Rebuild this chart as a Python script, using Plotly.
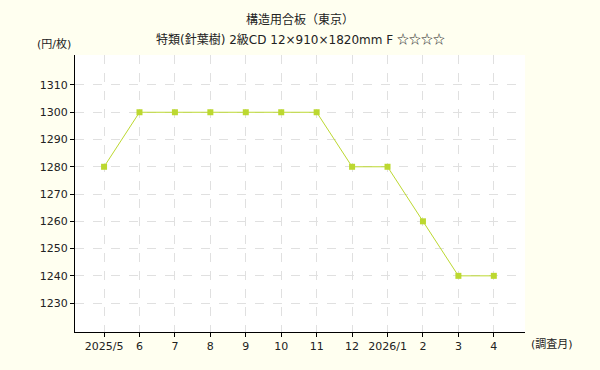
import plotly.graph_objects as go

months = ["2025/5", "6", "7", "8", "9", "10", "11", "12", "2026/1", "2", "3", "4"]
prices = [1280, 1300, 1300, 1300, 1300, 1300, 1300, 1280, 1280, 1260, 1240, 1240]
y_ticks = [1230, 1240, 1250, 1260, 1270, 1280, 1290, 1300, 1310]
title_main = "構造用合板（東京）"
title_sub = "特類(針葉樹) 2級CD 12×910×1820mm F "
title_stars = "☆☆☆☆"

font = "DejaVu Sans, Noto Sans CJK JP, sans-serif"
cjk = "Noto Sans CJK JP"
x_idx = list(range(len(months)))

fig = go.Figure()
fig.add_trace(go.Scatter(
    x=x_idx, y=prices, mode="lines+markers",
    line=dict(color="#bcd830", width=1),
    marker=dict(symbol="square", size=6, color="#bcd830"),
    hoverinfo="skip", showlegend=False,
))

annots = [
    dict(text=title_main, xref="paper", yref="paper", x=0.5, y=1.0, yshift=35,
         xanchor="center", yanchor="middle", showarrow=False,
         font=dict(family=font, size=12, color="#222222")),
    dict(text=title_sub + '<span style="font-family:' + cjk + '">' + title_stars + '</span>',
         xref="paper", yref="paper", x=0.5, y=1.0, yshift=17,
         xanchor="center", yanchor="middle", showarrow=False,
         font=dict(family=font, size=12, color="#222222")),
    dict(text="(円/枚)", xref="paper", yref="paper", x=-0.089, y=1.0, yshift=11,
         xanchor="left", yanchor="middle", showarrow=False,
         font=dict(family=font, size=11, color="#222222")),
    dict(text="(調査月)", xref="paper", yref="paper", x=1.0, xshift=4, y=0, yshift=-12,
         xanchor="left", yanchor="middle", showarrow=False,
         font=dict(family=font, size=11, color="#222222")),
]

fig.update_layout(
    width=600, height=370,
    paper_bgcolor="#fffff0", plot_bgcolor="#ffffff",
    margin=dict(l=75, r=75, t=55, b=38),
    font=dict(family=font, size=11, color="#222222"),
    xaxis=dict(range=[-0.82, 11.88], tickmode="array", tickvals=x_idx, ticktext=months,
               showline=True, linecolor="#000000", linewidth=1,
               ticks="outside", ticklen=4, tickcolor="#000000",
               showgrid=True, gridcolor="#e0e0e0", griddash="dash", gridwidth=1,
               zeroline=False, fixedrange=True),
    yaxis=dict(range=[1219.4, 1321], tickmode="array", tickvals=y_ticks,
               showline=True, linecolor="#000000", linewidth=1,
               ticks="outside", ticklen=4, tickcolor="#000000",
               showgrid=True, gridcolor="#e0e0e0", griddash="dash", gridwidth=1,
               zeroline=False, fixedrange=True),
    annotations=annots,
)

fig.write_html("out.html")
